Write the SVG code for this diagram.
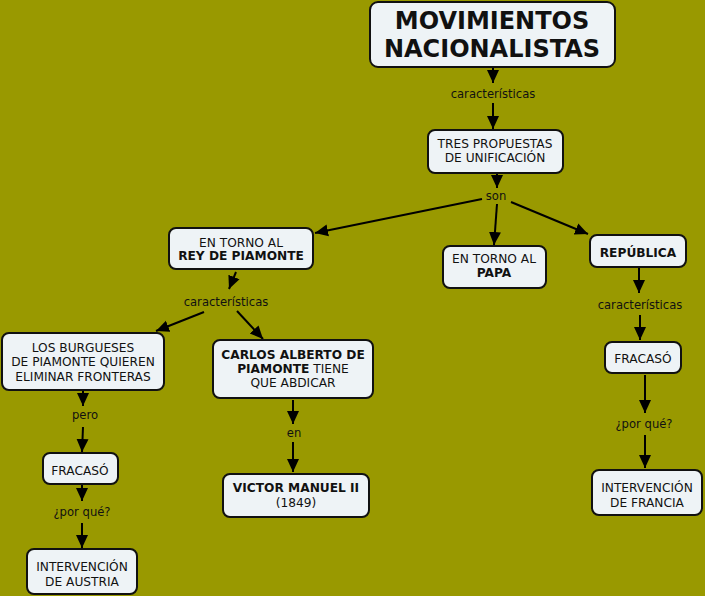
<svg xmlns="http://www.w3.org/2000/svg" width="705" height="596" viewBox="0 0 705 596">
<style>
.bg{fill:#999900}
.box{fill:#eef3f6;stroke:#111;stroke-width:2}
.t{font-family:"DejaVu Sans",Verdana,sans-serif;font-size:12.2px;fill:#111;text-anchor:middle}
.b{font-weight:bold}
.title{font-family:"DejaVu Sans",Verdana,sans-serif;font-size:24px;font-weight:bold;fill:#111;text-anchor:middle}
.lbl{font-family:"DejaVu Sans",Verdana,sans-serif;font-size:11.6px;fill:#111;text-anchor:middle}
.c line{stroke:#000;stroke-width:2;marker-end:url(#ah)}
</style>
<defs>
<marker id="ah" markerUnits="userSpaceOnUse" markerWidth="14" markerHeight="14" viewBox="0 0 14 14" refX="13" refY="7" orient="auto">
<path d="M0,1 L13,7 L0,13 Z" fill="#000"/>
</marker>
</defs>
<rect class="bg" x="0" y="0" width="705" height="596"/>
<g class="c" id="connectors">
<line x1="493" y1="68" x2="493" y2="83"/>
<line x1="493" y1="103" x2="493" y2="129"/>
<line x1="497" y1="173" x2="497" y2="188"/>
<line x1="482" y1="199" x2="315" y2="233"/>
<line x1="497" y1="204" x2="494" y2="245"/>
<line x1="511" y1="202" x2="588" y2="234"/>
<line x1="236" y1="272" x2="229" y2="289"/>
<line x1="204" y1="312" x2="156" y2="331"/>
<line x1="237" y1="311" x2="263" y2="339"/>
<line x1="639" y1="268" x2="639" y2="293"/>
<line x1="640" y1="315" x2="640" y2="340"/>
<line x1="645" y1="375" x2="645" y2="413"/>
<line x1="645" y1="435" x2="645" y2="468"/>
<line x1="83" y1="391" x2="83" y2="406"/>
<line x1="83" y1="427" x2="82" y2="452"/>
<line x1="82" y1="485" x2="82" y2="501"/>
<line x1="82" y1="523" x2="82" y2="548"/>
<line x1="293" y1="400" x2="293" y2="424"/>
<line x1="293" y1="442" x2="293" y2="472"/>
</g>
<g id="labels">
<text class="lbl" x="493" y="98">características</text>
<text class="lbl" x="496" y="200">son</text>
<text class="lbl" x="226" y="306">características</text>
<text class="lbl" x="640" y="309">características</text>
<text class="lbl" x="644" y="428">¿por qué?</text>
<text class="lbl" x="85" y="419">pero</text>
<text class="lbl" x="82" y="516">¿por qué?</text>
<text class="lbl" x="294" y="437">en</text>
</g>
<g id="n-title">
<rect class="box" x="370" y="2" width="245" height="65" rx="8"/>
<text class="title" x="492" y="29">MOVIMIENTOS</text>
<text class="title" x="492" y="57">NACIONALISTAS</text>
</g>
<g id="n-tres">
<rect class="box" x="428" y="130" width="135" height="43" rx="7"/>
<text class="t" x="495" y="148">TRES PROPUESTAS</text>
<text class="t" x="495" y="162">DE UNIFICACIÓN</text>
</g>
<g id="n-rey">
<rect class="box" x="169" y="228" width="144" height="41" rx="7"/>
<text class="t" x="241" y="247">EN TORNO AL</text>
<text class="t b" x="241" y="260">REY DE PIAMONTE</text>
</g>
<g id="n-papa">
<rect class="box" x="443" y="246" width="103" height="42" rx="7"/>
<text class="t" x="494" y="263">EN TORNO AL</text>
<text class="t b" x="494" y="277">PAPA</text>
</g>
<g id="n-republica">
<rect class="box" x="590" y="235" width="96" height="32" rx="7"/>
<text class="t b" x="638" y="257">REPÚBLICA</text>
</g>
<g id="n-burgueses">
<rect class="box" x="2" y="333" width="162" height="57" rx="7"/>
<text class="t" x="83" y="352">LOS BURGUESES</text>
<text class="t" x="83" y="366">DE PIAMONTE QUIEREN</text>
<text class="t" x="83" y="381">ELIMINAR FRONTERAS</text>
</g>
<g id="n-carlos">
<rect class="box" x="213" y="340" width="160" height="58" rx="7"/>
<text class="t" x="293" y="359"><tspan class="b">CARLOS ALBERTO DE</tspan></text>
<text class="t" x="293" y="373"><tspan class="b">PIAMONTE</tspan> TIENE</text>
<text class="t" x="293" y="387">QUE ABDICAR</text>
</g>
<g id="n-fracaso-r">
<rect class="box" x="605" y="342" width="76" height="31" rx="7"/>
<text class="t" x="643" y="363">FRACASÓ</text>
</g>
<g id="n-francia">
<rect class="box" x="592" y="470" width="110" height="45" rx="7"/>
<text class="t" x="647" y="492">INTERVENCIÓN</text>
<text class="t" x="647" y="507">DE FRANCIA</text>
</g>
<g id="n-fracaso-l">
<rect class="box" x="43" y="453" width="75" height="31" rx="7"/>
<text class="t" x="80" y="475">FRACASÓ</text>
</g>
<g id="n-austria">
<rect class="box" x="27" y="549" width="110" height="45" rx="7"/>
<text class="t" x="82" y="571">INTERVENCIÓN</text>
<text class="t" x="82" y="586">DE AUSTRIA</text>
</g>
<g id="n-victor">
<rect class="box" x="223" y="474" width="146" height="43" rx="7"/>
<text class="t b" x="296" y="492">VICTOR MANUEL II</text>
<text class="t" x="296" y="507">(1849)</text>
</g>
</svg>
